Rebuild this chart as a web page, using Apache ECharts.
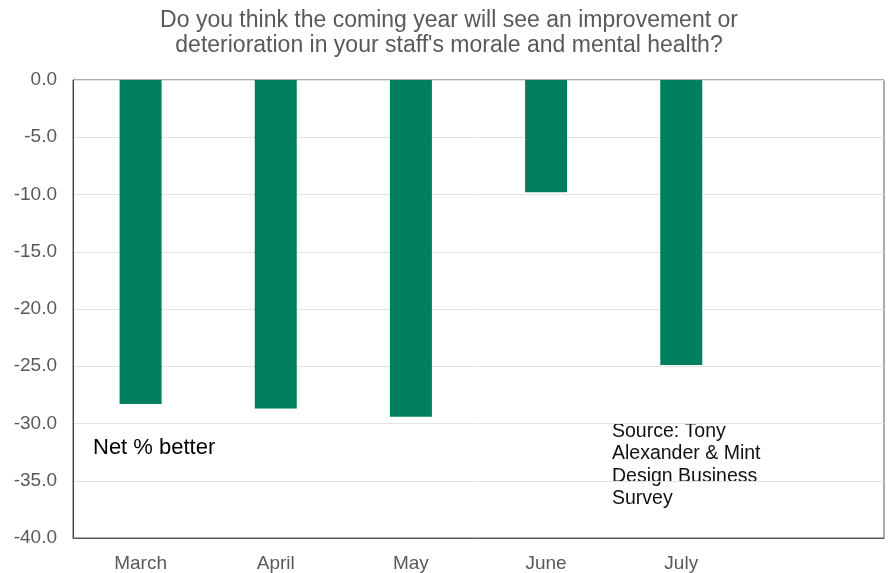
<!DOCTYPE html>
<html>
<head>
<meta charset="utf-8">
<script src="https://cdn.jsdelivr.net/npm/echarts@6/dist/echarts.min.js"></script>
<style>
  html, body { margin: 0; padding: 0; background: #fff; }
  #chart { width: 890px; height: 573px; }
</style>
</head>
<body>
<div id="chart"></div>
<script>
// Survey months (the trailing blank slot leaves room for the source note)
const months = ['March', 'April', 'May', 'June', 'July', ''];
// Net % of respondents expecting improvement
const netBetter = [-28.3, -28.7, -29.4, -9.8, -24.9, null];
const yTicks = { min: -40, max: 0, step: 5 };

const chart = echarts.init(document.getElementById('chart'));
const font = '"Liberation Sans", Arial, sans-serif';

chart.setOption({
  animation: false,
  grid: {
    left: 73, top: 80, right: 6, bottom: 32,
    show: true,
    borderColor: '#595959',
    borderWidth: 1,
    containLabel: false
  },
  xAxis: {
    type: 'category',
    data: months,
    position: 'bottom',
    axisLine: { show: true, onZero: false, lineStyle: { color: '#595959' } },
    axisTick: { show: false },
    axisLabel: { color: '#595959', fontFamily: font, fontSize: 19, margin: 16 }
  },
  yAxis: {
    type: 'value',
    min: yTicks.min,
    max: yTicks.max,
    interval: yTicks.step,
    axisLine: { show: true, lineStyle: { color: '#404040' } },
    axisTick: { show: false },
    splitLine: { lineStyle: { color: '#e3e3e3', width: 1 } },
    axisLabel: {
      color: '#595959', fontFamily: font, fontSize: 19, margin: 16,
      formatter: v => v.toFixed(1)
    }
  },
  series: [{
    type: 'bar',
    data: netBetter,
    barWidth: 42,
    itemStyle: { color: '#007f5f' }
  }],
  graphic: [
    {
      type: 'text', x: 449, y: 8,
      style: {
        text: 'Do you think the coming year will see an improvement or\ndeterioration in your staff\'s morale and mental health?',
        fill: '#595959', font: '23px ' + font, lineHeight: 25,
        align: 'center', verticalAlign: 'top'
      }
    },
    {
      type: 'text', x: 93, y: 448,
      style: {
        text: 'Net % better', fill: '#000', font: '22px ' + font,
        verticalAlign: 'middle'
      }
    },
    {
      type: 'text', x: 612, y: 420,
      style: {
        text: 'Source: Tony\nAlexander & Mint\nDesign Business\nSurvey',
        fill: '#111', font: '19.5px ' + font, lineHeight: 22.5,
        verticalAlign: 'top'
      }
    }
  ]
});
</script>
</body>
</html>
